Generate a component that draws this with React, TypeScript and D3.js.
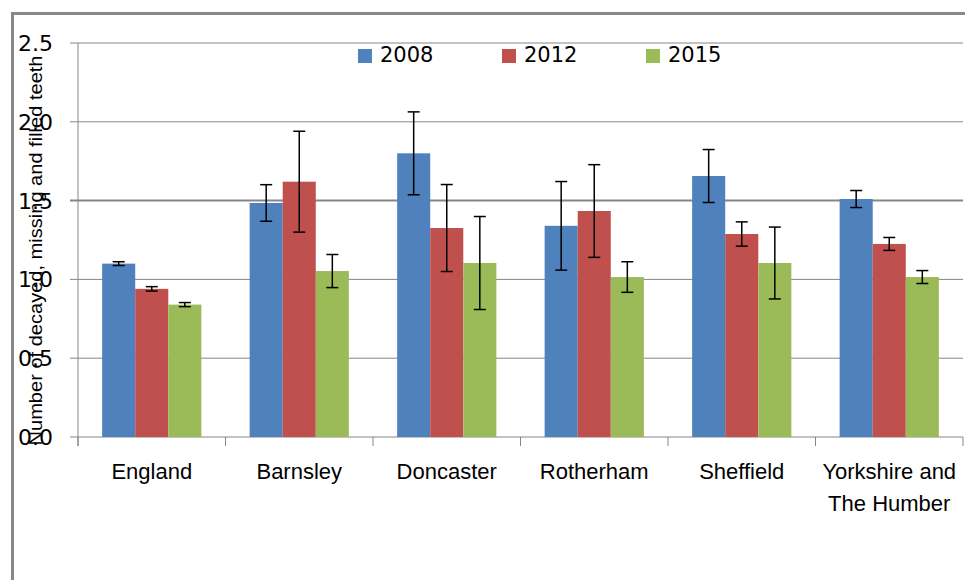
import React from "react";
import * as d3 from "d3";

const categories = ["England", "Barnsley", "Doncaster", "Rotherham", "Sheffield", "Yorkshire and\nThe Humber"];
const seriesNames = ["2008", "2012", "2015"];
const values2008 = [1.10, 1.485, 1.80, 1.34, 1.656, 1.51];
const values2012 = [0.94, 1.62, 1.326, 1.434, 1.288, 1.225];
const values2015 = [0.84, 1.053, 1.104, 1.015, 1.104, 1.015];
const errors2008 = [0.012, 0.116, 0.263, 0.281, 0.168, 0.054];
const errors2012 = [0.014, 0.32, 0.276, 0.294, 0.077, 0.041];
const errors2015 = [0.013, 0.105, 0.295, 0.097, 0.228, 0.041];
const yTicks = [0, 0.5, 1.0, 1.5, 2.0, 2.5];
const colors = ["#4F81BD", "#C0504D", "#9BBB59"];
const yTitle = "Number of decayed, missing and filled teeth";

const W = 965;
const H = 580;

export default function App() {
  const plotLeft = 78;
  const plotRight = 963;
  const plotTop = 43;
  const plotBottom = 437;

  const x0 = d3.scaleBand<string>().domain(categories).range([plotLeft, plotRight]).paddingInner(0).paddingOuter(0);
  const x1 = d3.scaleBand<string>().domain(seriesNames).range([0, x0.bandwidth()]).paddingInner(0).paddingOuter(0.73);
  const y = d3.scaleLinear().domain([0, 2.5]).range([plotBottom, plotTop]);

  const allValues = [values2008, values2012, values2015];
  const allErrors = [errors2008, errors2012, errors2015];

  const boundaries = categories.map((c) => x0(c) as number).concat([plotRight]);
  const grid = "#868686";
  const capHalf = 6;

  return (
    <svg width={W} height={H} style={{ position: "fixed", left: 0, top: 0, background: "#fff" }}>
      <rect x={0} y={0} width={W} height={H} fill="#fff" />
      {/* chart border */}
      <line x1={12.5} y1={13.5} x2={W} y2={13.5} stroke="#888" strokeWidth={3} />
      <line x1={12.5} y1={12} x2={12.5} y2={H} stroke="#888" strokeWidth={3} />

      {/* gridlines */}
      {yTicks.map((t) => (
        <line key={"g" + t} x1={70} x2={plotRight} y1={y(t)} y2={y(t)} stroke={grid} strokeWidth={t === 1.5 ? 2 : 1} />
      ))}
      {/* y axis line */}
      <line x1={plotLeft} x2={plotLeft} y1={plotTop} y2={plotBottom + 9} stroke={grid} strokeWidth={1} />
      {/* category ticks */}
      {boundaries.map((b, i) => (
        <line key={"ct" + i} x1={b} x2={b} y1={plotBottom} y2={plotBottom + 9} stroke={grid} strokeWidth={1} />
      ))}

      {/* bars */}
      {seriesNames.map((s, si) => (
        <g key={s}>
          {categories.map((c, ci) => {
            const v = allValues[si][ci];
            const bx = (x0(c) as number) + (x1(s) as number);
            return (
              <rect key={c} x={bx} y={y(v)} width={x1.bandwidth()} height={y(0) - y(v)} fill={colors[si]} />
            );
          })}
        </g>
      ))}

      {/* error bars */}
      {seriesNames.map((s, si) => (
        <g key={"e" + s} stroke="#000" strokeWidth={1.5}>
          {categories.map((c, ci) => {
            const v = allValues[si][ci];
            const e = allErrors[si][ci];
            const cx = (x0(c) as number) + (x1(s) as number) + x1.bandwidth() / 2;
            return (
              <g key={c}>
                <line x1={cx} x2={cx} y1={y(v + e)} y2={y(v - e)} />
                <line x1={cx - capHalf} x2={cx + capHalf} y1={y(v + e)} y2={y(v + e)} />
                <line x1={cx - capHalf} x2={cx + capHalf} y1={y(v - e)} y2={y(v - e)} />
              </g>
            );
          })}
        </g>
      ))}

      {/* y axis title */}
      <text
        transform={`translate(42, 250.5) rotate(-90)`}
        textAnchor="middle"
        fontFamily="'Liberation Sans', Arial, sans-serif"
        fontSize={18}
        textLength={390}
        lengthAdjust="spacingAndGlyphs"
        fill="#000"
      >
        {yTitle}
      </text>

      {/* y tick labels */}
      {yTicks.map((t) => (
        <text
          key={"yl" + t}
          x={53}
          y={y(t)}
          dy="0.36em"
          textAnchor="end"
          fontFamily="'DejaVu Sans', sans-serif"
          fontSize={22}
          fill="#000"
        >
          {d3.format(".1f")(t)}
        </text>
      ))}

      {/* category labels */}
      {categories.map((c) => {
        const cx = (x0(c) as number) + x0.bandwidth() / 2;
        const lines = c.split("\n");
        return (
          <text
            key={"cl" + c}
            x={cx}
            y={479}
            textAnchor="middle"
            fontFamily="'Liberation Sans', Arial, sans-serif"
            fontSize={22}
            fill="#000"
          >
            {lines.map((l, li) => (
              <tspan key={li} x={cx} dy={li === 0 ? 0 : 32}>
                {l}
              </tspan>
            ))}
          </text>
        );
      })}

      {/* legend */}
      {seriesNames.map((s, si) => {
        const lx = 358 + si * 144;
        return (
          <g key={"lg" + s}>
            <rect x={lx} y={49} width={14} height={14} fill={colors[si]} />
            <text x={lx + 22} y={62} fontFamily="'DejaVu Sans', sans-serif" fontSize={21} fill="#000">
              {s}
            </text>
          </g>
        );
      })}
    </svg>
  );
}
